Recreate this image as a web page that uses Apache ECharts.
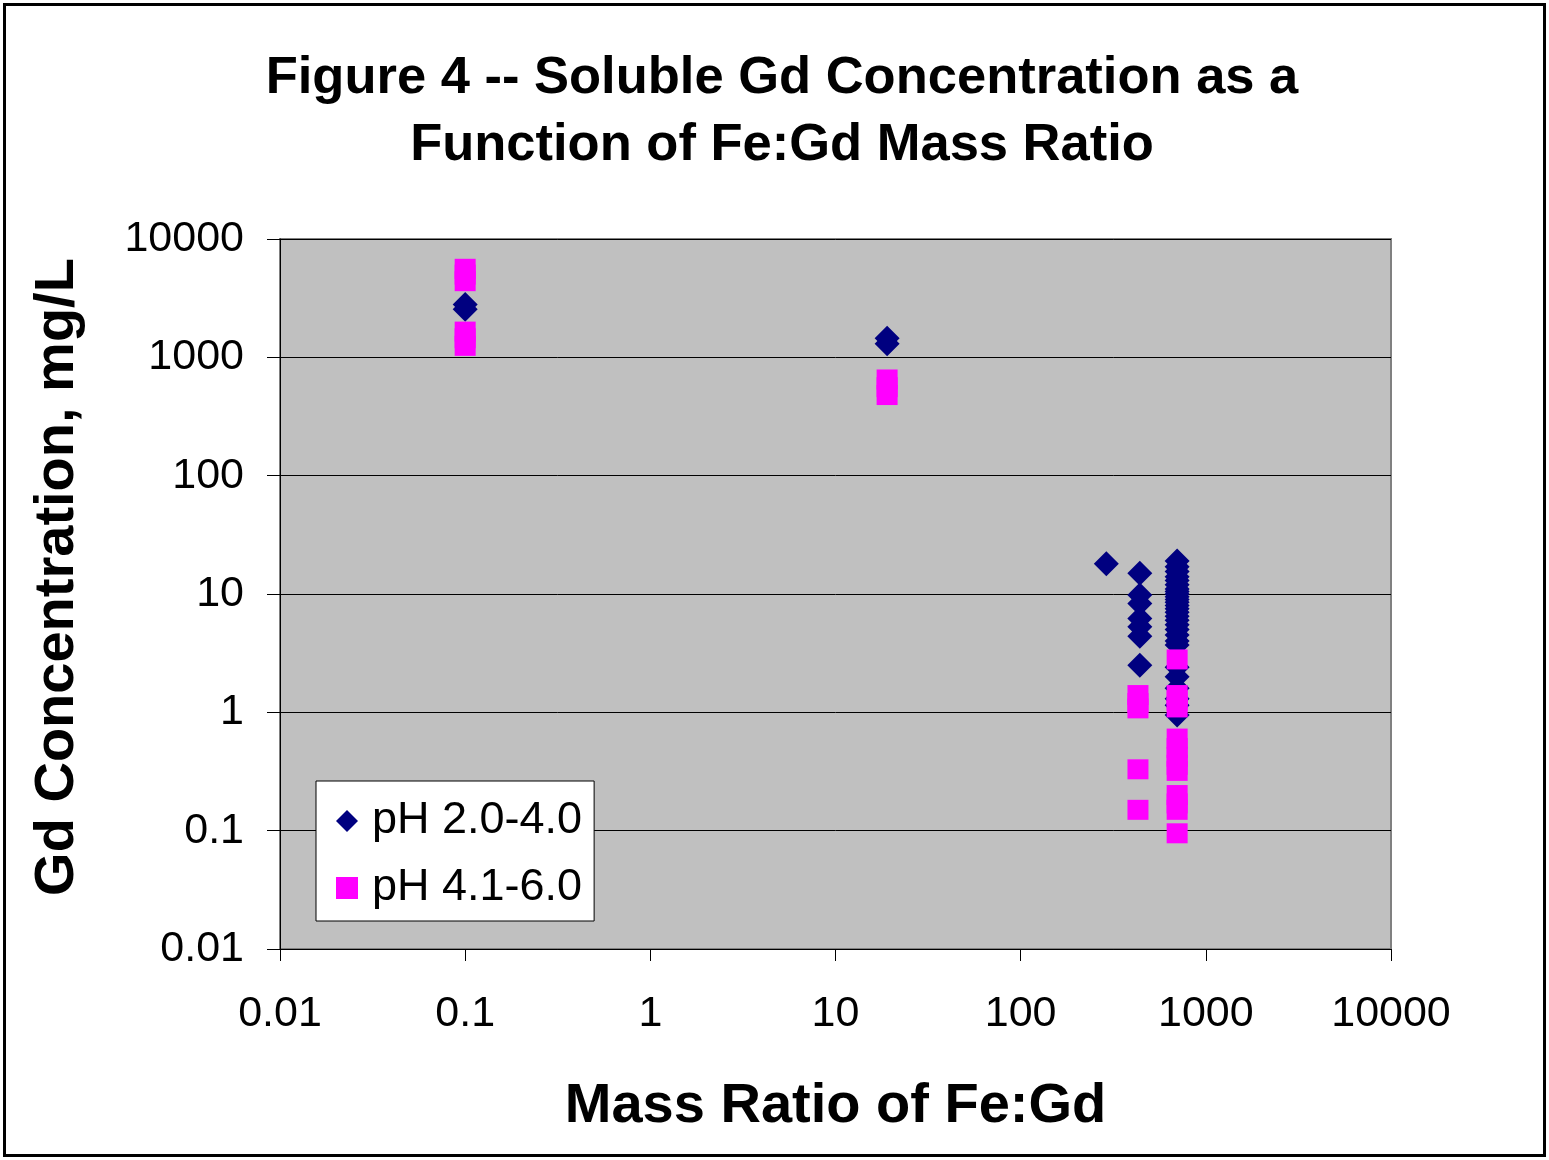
<!DOCTYPE html>
<html>
<head>
<meta charset="utf-8">
<script src="https://cdn.jsdelivr.net/npm/echarts@6/dist/echarts.min.js"></script>
<style>
html,body{margin:0;padding:0;background:#fff;}
#c{width:1549px;height:1160px;}
</style>
</head>
<body>
<div id="c"></div>
<script>
// Data
const titleText = 'Figure 4 -- Soluble Gd Concentration as a\nFunction of Fe:Gd Mass Ratio';
const xAxisName = 'Mass Ratio of Fe:Gd';
const yAxisName = 'Gd Concentration, mg/L';
const seriesNames = ['pH 2.0-4.0', 'pH 4.1-6.0'];
const xTickLabels = ['0.01', '0.1', '1', '10', '100', '1000', '10000'];
const yTickLabels = ['0.01', '0.1', '1', '10', '100', '1000', '10000'];

const lowPhX = [0.1, 0.1, 19, 19, 290,
  440, 440, 440, 440, 440, 440, 440,
  700, 700, 700, 700, 700, 700, 700, 700, 700, 700, 700, 700, 700, 700,
  700, 700, 700, 700, 700, 700, 700, 700, 700, 700, 700, 700, 700, 700];
const lowPhY = [2800, 2550, 1450, 1300, 18,
  15, 9.8, 8.3, 6.2, 5.3, 4.4, 2.5,
  19, 17, 15.5, 14, 13, 12, 11, 10.5, 10, 9.5, 9, 8.5, 8, 7.5,
  7, 6.5, 6, 5.5, 5, 4.5, 4, 3.7, 2.4, 2.0, 1.6, 1.3, 1.15, 0.95];

const highPhX = [0.1, 0.1, 0.1, 0.1, 0.1, 0.1, 19, 19, 19,
  430, 430, 430, 430, 430,
  700, 700, 700, 700, 700, 700, 700, 700, 700, 700, 700, 700, 700];
const highPhY = [5600, 5000, 4400, 1650, 1450, 1250, 650, 560, 480,
  1.4, 1.2, 1.08, 0.33, 0.15,
  2.8, 1.4, 1.25, 1.1, 0.6, 0.5, 0.42, 0.36, 0.32, 0.2, 0.17, 0.15, 0.095];

const FONT = "'Liberation Sans', Arial, sans-serif";
const labelFor = (labels) => (v) => {
  const i = Math.round(Math.log10(v)) + 2;
  return labels[i] !== undefined ? labels[i] : '';
};

const chart = echarts.init(document.getElementById('c'), null, {renderer: 'canvas'});
chart.setOption({
  backgroundColor: '#ffffff',
  animation: false,
  graphic: [{
    type: 'rect', z: 100, silent: true,
    shape: {x: 4.5, y: 4.5, width: 1540, height: 1151},
    style: {fill: 'none', stroke: '#000', lineWidth: 3}
  }],
  title: {
    text: titleText,
    left: 777, top: 40, textAlign: 'center',
    textStyle: {fontFamily: FONT, fontWeight: 'bold', fontSize: 52.5, lineHeight: 67, color: '#000'}
  },
  grid: {
    left: 280, right: 158, top: 239, bottom: 211,
    show: true, backgroundColor: '#C0C0C0', borderColor: '#808080', borderWidth: 2
  },
  legend: {
    orient: 'vertical', left: 316, top: 781,
    backgroundColor: '#ffffff', borderColor: '#000', borderWidth: 1,
    padding: [17, 12, 10, 20], itemGap: 21,
    itemWidth: 22, itemHeight: 22,
    textStyle: {fontFamily: FONT, fontSize: 45, color: '#000', lineHeight: 46, padding: [0, 0, 0, 9]},
    data: [{name: seriesNames[0], icon: 'diamond'}, {name: seriesNames[1], icon: 'rect'}]
  },
  xAxis: {
    type: 'log', logBase: 10, min: 0.01, max: 10000,
    name: xAxisName, nameLocation: 'middle', nameGap: 130,
    nameTextStyle: {fontFamily: FONT, fontWeight: 'bold', fontSize: 56, color: '#000'},
    axisLine: {show: true, onZero: false, lineStyle: {color: '#000', width: 1}},
    axisTick: {show: true, length: 12, lineStyle: {color: '#000'}},
    minorTick: {show: false},
    splitLine: {show: false},
    axisLabel: {fontFamily: FONT, fontSize: 43, color: '#000', margin: 44, formatter: labelFor(xTickLabels)}
  },
  yAxis: {
    type: 'log', logBase: 10, min: 0.01, max: 10000,
    name: yAxisName, nameLocation: 'middle', nameGap: 194, nameRotate: 90,
    nameTextStyle: {fontFamily: FONT, fontWeight: 'bold', fontSize: 56, color: '#000', padding: [0, 0, 0, 34]},
    axisLine: {show: true, onZero: false, lineStyle: {color: '#000', width: 1}},
    axisTick: {show: true, length: 13, lineStyle: {color: '#000'}},
    splitLine: {show: true, lineStyle: {color: '#000', width: 1}},
    axisLabel: {fontFamily: FONT, fontSize: 43, color: '#000', margin: 36, formatter: labelFor(yTickLabels)}
  },
  series: [
    {
      name: seriesNames[0], type: 'scatter', symbol: 'diamond', symbolSize: 25,
      itemStyle: {color: '#000080', opacity: 1},
      data: lowPhX.map((x, i) => [x, lowPhY[i]]), z: 3
    },
    {
      name: seriesNames[1], type: 'scatter', symbol: 'rect', symbolSize: [21, 20],
      itemStyle: {color: '#FF00FF', opacity: 1},
      data: highPhX.map((x, i) => [x, highPhY[i]]), z: 4
    }
  ]
});
</script>
</body>
</html>
